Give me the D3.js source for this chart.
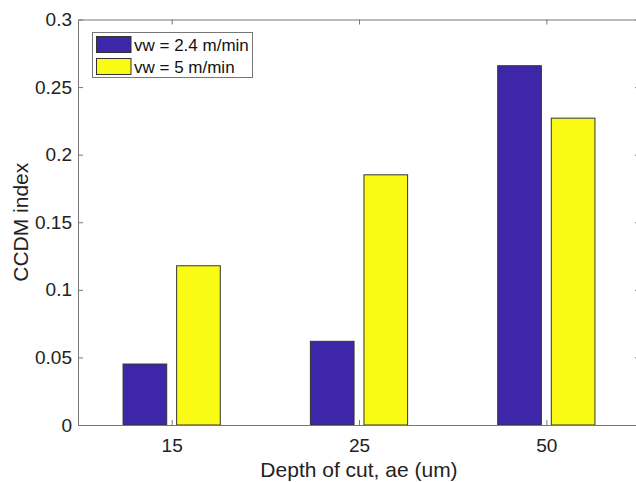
<!DOCTYPE html>
<html><head><meta charset="utf-8">
<script src="https://cdn.jsdelivr.net/npm/d3@7"></script>
<style>body{margin:0;background:#fff}svg{display:block}text{font-family:"Liberation Sans",Arial,sans-serif}</style>
</head><body><svg id="c" width="636" height="482"></svg>
<script>
const categories = ["15", "25", "50"];
const seriesNames = ["vw = 2.4 m/min", "vw = 5 m/min"];
const series1 = [0.0451, 0.0619, 0.2658];
const series2 = [0.1178, 0.1851, 0.2270];
const yTicks = [0, 0.05, 0.1, 0.15, 0.2, 0.25, 0.3];
const colors = ["#3e26a8", "#f9fb15"];

const svg = d3.select("#c");
const m = {l: 78, t: 19.5, r: 640, b: 425};
const x = d3.scaleLinear().domain([0.5, 3.5]).range([m.l, m.r]);
const y = d3.scaleLinear().domain([0, 0.3]).range([m.b, m.t]);
const axisColor = "#777";
const tickFs = 19, labelFs = 21, legendFs = 17;

const barW = 0.233, off = 0.143;
const all = [series1, series2];
all.forEach((s, si) => {
  svg.append("g").selectAll("rect").data(s).enter().append("rect")
    .attr("x", (d, i) => x(i + 1 + (si === 0 ? -off : off) - barW / 2))
    .attr("width", x(1 + barW) - x(1))
    .attr("y", d => y(d))
    .attr("height", d => y(0) - y(d))
    .attr("fill", colors[si])
    .attr("stroke", "#333").attr("stroke-width", 1);
});

const xb = d3.axisBottom(x).tickValues([1, 2, 3]).tickFormat((d, i) => categories[i]).tickSizeInner(-5).tickSizeOuter(0).tickPadding(14);
const xt = d3.axisTop(x).tickValues([1, 2, 3]).tickFormat("").tickSizeInner(-5).tickSizeOuter(0);
const yl = d3.axisLeft(y).tickValues(yTicks).tickFormat(d => d3.format("~g")(d)).tickSizeInner(-5).tickSizeOuter(0).tickPadding(6);
const yr = d3.axisRight(y).tickValues(yTicks).tickFormat("").tickSizeInner(-5).tickSizeOuter(0);

function style(g) {
  g.selectAll("path,line").attr("stroke", axisColor);
  g.selectAll("text").attr("fill", "#222").style("font-size", tickFs + "px").style("font-family", '"Liberation Sans",Arial,sans-serif');
}
svg.append("g").attr("transform", `translate(0,${m.b})`).call(xb).call(style);
svg.append("g").attr("transform", `translate(0,${m.t})`).call(xt).call(style);
svg.append("g").attr("transform", `translate(${m.l},0)`).call(yl).call(style);
svg.append("g").attr("transform", `translate(${m.r},0)`).call(yr).call(style);

svg.append("text").attr("x", (m.l + m.r) / 2).attr("y", 477).attr("text-anchor", "middle")
  .style("font-size", labelFs + "px").attr("fill", "#222").text("Depth of cut, ae (um)");
svg.append("text").attr("transform", `translate(28,${(m.t + m.b) / 2}) rotate(-90)`).attr("text-anchor", "middle")
  .style("font-size", labelFs + "px").attr("fill", "#222").text("CCDM index");

const lg = svg.append("g");
lg.append("rect").attr("x", 92.5).attr("y", 32.5).attr("width", 160).attr("height", 45)
  .attr("fill", "#fff").attr("stroke", "#777");
seriesNames.forEach((n, i) => {
  lg.append("rect").attr("x", 96.5).attr("y", 36.5 + i * 22).attr("width", 34.5).attr("height", 16)
    .attr("fill", colors[i]).attr("stroke", "#333");
  lg.append("text").attr("x", 134).attr("y", 50.5 + i * 22).style("font-size", legendFs + "px").attr("fill", "#111").text(n);
});
</script></body></html>
